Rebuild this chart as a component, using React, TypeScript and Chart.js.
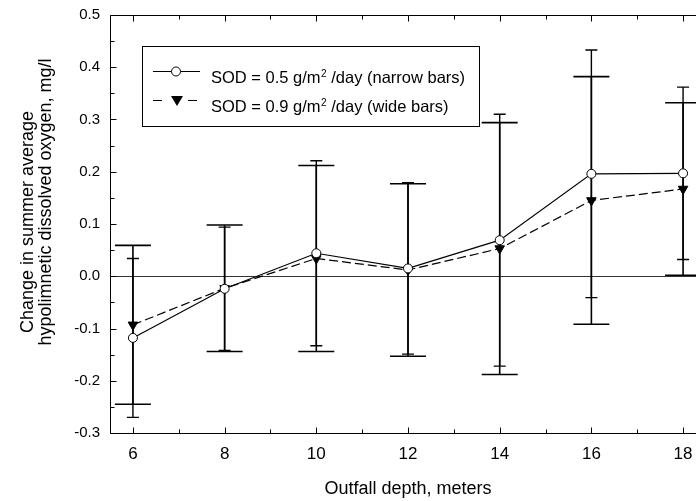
import React, { useEffect, useRef } from "react";
import { Chart, registerables } from "chart.js";

Chart.register(...registerables);

// ---- data ----
const depths = [6, 8, 10, 12, 14, 16, 18];
const sod05Mean = [-0.118, -0.024, 0.044, 0.015, 0.069, 0.196, 0.197];
const sod05Err = [0.152, 0.118, 0.177, 0.164, 0.241, 0.237, 0.165];
const sod09Mean = [-0.093, -0.023, 0.034, 0.012, 0.053, 0.145, 0.167];
const sod09Err = [0.152, 0.121, 0.178, 0.165, 0.241, 0.237, 0.165];
const xTickValues = [6, 8, 10, 12, 14, 16, 18];
const yTickValues = [-0.3, -0.2, -0.1, 0.0, 0.1, 0.2, 0.3, 0.4, 0.5];
const legendLabels = ["SOD = 0.5 g/m", "SOD = 0.9 g/m"];
const legendSuffix = [" /day (narrow bars)", " /day (wide bars)"];
const yTitleLines = ["Change in summer average", "hypolimnetic dissolved oxygen, mg/l"];
const xTitle = "Outfall depth, meters";

const FONT = "'Liberation Sans', Arial, Helvetica, sans-serif";

const decorPlugin = {
  id: "decor",
  beforeDatasetsDraw(chart: any) {
    const { ctx, chartArea: a, scales } = chart;
    const xs = scales.x;
    const ys = scales.y;
    ctx.save();
    // zero line
    const y0 = Math.round(ys.getPixelForValue(0)) + 0.5;
    ctx.strokeStyle = "#333";
    ctx.lineWidth = 1;
    ctx.beginPath();
    ctx.moveTo(a.left, y0);
    ctx.lineTo(a.right, y0);
    ctx.stroke();

    const drawBars = (means: number[], errs: number[], half: number, lw: number) => {
      ctx.strokeStyle = "#000";
      ctx.lineWidth = lw;
      depths.forEach((d, i) => {
        const px = xs.getPixelForValue(d);
        const top = ys.getPixelForValue(means[i] + errs[i]);
        const bot = ys.getPixelForValue(means[i] - errs[i]);
        ctx.beginPath();
        ctx.moveTo(px, top);
        ctx.lineTo(px, bot);
        ctx.moveTo(px - half, top);
        ctx.lineTo(px + half, top);
        ctx.moveTo(px - half, bot);
        ctx.lineTo(px + half, bot);
        ctx.stroke();
      });
    };
    drawBars(sod09Mean, sod09Err, 18, 1.6);
    drawBars(sod05Mean, sod05Err, 6, 1.4);
    ctx.restore();
  },
  afterDraw(chart: any) {
    const { ctx, chartArea: a, scales } = chart;
    const xs = scales.x;
    const ys = scales.y;
    ctx.save();
    ctx.strokeStyle = "#000";
    ctx.lineWidth = 1;
    const L = Math.round(a.left) + 0.5;
    const R = Math.round(a.right) + 0.5;
    const T = Math.round(a.top) + 0.5;
    const B = Math.round(a.bottom) + 0.5;
    ctx.beginPath();
    ctx.moveTo(L, T);
    ctx.lineTo(R, T);
    ctx.lineTo(R, B);
    ctx.lineTo(L, B);
    ctx.closePath();
    ctx.stroke();

    // ticks (inward)
    ctx.beginPath();
    for (let k = 0; k <= 16; k++) {
      const v = -0.3 + k * 0.05;
      const py = Math.round(ys.getPixelForValue(v)) + 0.5;
      const len = k % 2 === 0 ? 6 : 4;
      ctx.moveTo(L, py);
      ctx.lineTo(L + len, py);
      ctx.moveTo(R, py);
      ctx.lineTo(R - len, py);
    }
    for (let d = 6; d <= 18; d++) {
      const px = Math.round(xs.getPixelForValue(d)) + 0.5;
      const len = d % 2 === 0 ? 6 : 4;
      ctx.moveTo(px, B);
      ctx.lineTo(px, B - len);
      ctx.moveTo(px, T);
      ctx.lineTo(px, T + len);
    }
    ctx.stroke();

    // y title (rotated)
    ctx.fillStyle = "#000";
    ctx.font = `18px ${FONT}`;
    ctx.textAlign = "center";
    ctx.textBaseline = "alphabetic";
    const baseX = [33, 51];
    const centerY = [222, 202];
    yTitleLines.forEach((line, i) => {
      ctx.save();
      ctx.translate(baseX[i], centerY[i]);
      ctx.rotate(-Math.PI / 2);
      ctx.fillText(line, 0, 0);
      ctx.restore();
    });
    ctx.textAlign = "left";

    // legend
    ctx.fillStyle = "#fff";
    ctx.fillRect(142, 46, 337, 80);
    ctx.strokeStyle = "#000";
    ctx.lineWidth = 1;
    ctx.strokeRect(142.5, 46.5, 337, 80);
    // row 1 sample
    ctx.lineWidth = 1;
    ctx.beginPath();
    ctx.moveTo(153, 71.5);
    ctx.lineTo(200, 71.5);
    ctx.stroke();
    ctx.beginPath();
    ctx.arc(176, 71.5, 4.5, 0, Math.PI * 2);
    ctx.fillStyle = "#fff";
    ctx.fill();
    ctx.stroke();
    // row 2 sample
    ctx.beginPath();
    ctx.moveTo(153, 100.5);
    ctx.lineTo(162, 100.5);
    ctx.moveTo(188, 100.5);
    ctx.lineTo(197, 100.5);
    ctx.stroke();
    ctx.fillStyle = "#000";
    ctx.beginPath();
    ctx.moveTo(171, 96);
    ctx.lineTo(183, 96);
    ctx.lineTo(177, 106);
    ctx.closePath();
    ctx.fill();
    // texts
    const rowsY = [83, 112];
    legendLabels.forEach((lab, i) => {
      let x = 211;
      ctx.font = `16.5px ${FONT}`;
      ctx.fillText(lab, x, rowsY[i]);
      x += ctx.measureText(lab).width + 0.5;
      ctx.font = `10px ${FONT}`;
      ctx.fillText("2", x, rowsY[i] - 6);
      x += ctx.measureText("2").width;
      ctx.font = `16.5px ${FONT}`;
      ctx.fillText(legendSuffix[i], x, rowsY[i]);
    });
    ctx.restore();
  },
};

export default function App() {
  const ref = useRef<HTMLCanvasElement | null>(null);
  useEffect(() => {
    if (!ref.current) return;
    const chart = new Chart(ref.current, {
      type: "line",
      data: {
        datasets: [
          {
            label: "SOD 0.5",
            data: depths.map((d, i) => ({ x: d, y: sod05Mean[i] })),
            borderColor: "#000",
            borderWidth: 1.2,
            pointStyle: "circle",
            pointRadius: 4.5,
            pointBackgroundColor: "#fff",
            pointBorderColor: "#000",
            pointBorderWidth: 1,
            tension: 0,
          },
          {
            label: "SOD 0.9",
            data: depths.map((d, i) => ({ x: d, y: sod09Mean[i] })),
            borderColor: "#000",
            borderWidth: 1.2,
            borderDash: [9, 4],
            pointStyle: "triangle",
            rotation: 180,
            pointRadius: 5.5,
            pointBackgroundColor: "#000",
            pointBorderColor: "#000",
            pointBorderWidth: 1,
            tension: 0,
          },
        ],
      },
      options: {
        animation: false,
        responsive: false,
        devicePixelRatio: 1,
        layout: { padding: { top: 15, right: 14, left: 0, bottom: 0 }, autoPadding: false },
        plugins: { legend: { display: false }, tooltip: { enabled: false } },
        scales: {
          x: {
            type: "linear",
            min: 5.5,
            max: 18.5,
            afterFit: (s: any) => {
              s.height = 68;
            },
            afterBuildTicks: (s: any) => {
              s.ticks = xTickValues.map((v) => ({ value: v }));
            },
            grid: { display: false },
            border: { display: false },
            ticks: {
              padding: 3,
              color: "#000",
              font: { family: FONT, size: 17 },
              callback: (v: any) => String(v),
              maxRotation: 0,
            },
            title: {
              display: true,
              text: xTitle,
              color: "#000",
              font: { family: FONT, size: 18 },
              padding: { top: 0, bottom: 1 },
            },
          },
          y: {
            type: "linear",
            min: -0.3,
            max: 0.5,
            afterFit: (s: any) => {
              s.width = 110;
            },
            afterBuildTicks: (s: any) => {
              s.ticks = yTickValues.map((v) => ({ value: v }));
            },
            grid: { display: false },
            border: { display: false },
            ticks: {
              padding: 2,
              color: "#000",
              font: { family: FONT, size: 15 },
              callback: (v: any) => Number(v).toFixed(1),
            },
          },
        },
      },
      plugins: [decorPlugin],
    } as any);
    return () => chart.destroy();
  }, []);
  return (
    <div
      style={{
        position: "fixed",
        left: 0,
        top: 0,
        width: 696,
        height: 501,
        overflow: "hidden",
        background: "#fff",
      }}
    >
      <canvas ref={ref} width={720} height={501} style={{ width: 720, height: 501, display: "block" }} />
    </div>
  );
}
